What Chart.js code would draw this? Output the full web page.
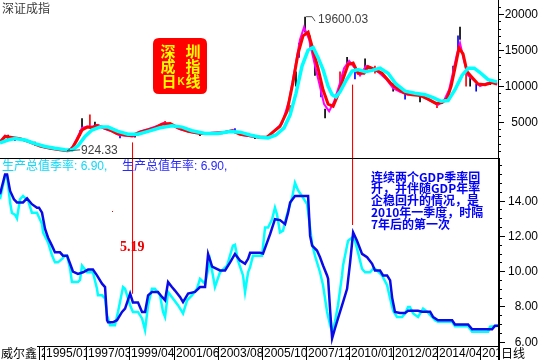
<!DOCTYPE html>
<html><head><meta charset="utf-8">
<script src="https://cdn.jsdelivr.net/npm/chart.js@4.4.1/dist/chart.umd.min.js"></script>
<style>
html,body{margin:0;padding:0;background:#fff;}
#wrap{position:relative;width:540px;height:360px;overflow:hidden;background:#fff;}
canvas{position:absolute;left:0;}
#cTop{top:0;}
#cBot{top:158px;}
</style></head><body>
<div id="wrap"><canvas id="cTop" width="540" height="158"></canvas><canvas id="cBot" width="540" height="202"></canvas></div>
<script>
// ---------- data ----------
const dateRange = [1992.70, 2017.35];
const priceRange = [0, 21990];
const gdpRange = [5.756, 16.42];
const priceTicks = [5000, 10000, 15000, 20000];
const gdpTicks = [6, 8, 10, 12, 14];
const dateTickPos = [1994.63, 1994.88, 1996.96, 1999.09, 2001.31, 2003.49, 2005.67, 2007.85, 2009.98, 2012.16, 2014.33, 2016.46];
const dateTickLabels = ['2', '1995/01', '1997/03', '1999/04', '2001/06', '2003/08', '2005/10', '2007/12', '2010/01', '2012/02', '2014/04', '2016/05'];

// Shenzhen Component index – moving averages [date, value]
const maCyan = [[1992.70,2100],[1993.10,2500],[1993.44,2700],[1993.94,2500],[1994.43,2000],[1994.93,1600],[1995.42,1350],[1995.92,1150],[1996.26,1100],[1996.56,1700],[1996.91,3000],[1997.25,3900],[1997.65,4300],[1998.05,4300],[1998.54,3700],[1999.04,3300],[1999.53,3300],[2000.03,3700],[2000.62,4200],[2001.21,4500],[2001.71,4300],[2002.20,3800],[2002.85,3400],[2003.49,3400],[2004.09,3700],[2004.58,3600],[2005.08,3200],[2005.57,2900],[2005.97,2800],[2006.36,3200],[2006.76,4200],[2007.06,6000],[2007.35,9000],[2007.65,12800],[2007.95,15000],[2008.20,15400],[2008.44,14000],[2008.69,12300],[2008.94,10000],[2009.14,8800],[2009.33,8500],[2009.53,9200],[2009.83,10800],[2010.13,12100],[2010.42,12300],[2010.77,12000],[2011.12,12200],[2011.51,12500],[2011.91,11800],[2012.30,10300],[2012.75,9300],[2013.24,9000],[2013.74,8800],[2014.14,8400],[2014.53,7900],[2014.88,8000],[2015.22,9500],[2015.57,11500],[2015.87,12500],[2016.17,12500],[2016.46,11900],[2016.86,10900],[2017.30,10600]];
const maRed = [[1992.70,2200],[1992.95,3000],[1993.20,2900],[1993.69,2700],[1994.19,2200],[1994.68,1650],[1995.18,1350],[1995.67,1150],[1996.02,1000],[1996.26,1300],[1996.51,2500],[1996.76,3900],[1997.01,4300],[1997.25,4200],[1997.50,4500],[1997.75,4300],[1998.15,3900],[1998.49,3400],[1998.89,3200],[1999.23,3100],[1999.53,3500],[1999.88,3800],[2000.37,4200],[2000.72,4700],[2001.12,4800],[2001.51,4200],[2002.01,3700],[2002.60,3400],[2003.10,3400],[2003.69,3500],[2004.19,3800],[2004.58,3300],[2005.08,3100],[2005.57,2900],[2005.92,2900],[2006.21,3600],[2006.56,4400],[2006.91,6500],[2007.20,10500],[2007.45,14500],[2007.70,17000],[2007.95,17500],[2008.20,15000],[2008.44,12500],[2008.69,9500],[2008.94,7500],[2009.19,7200],[2009.43,8800],[2009.68,11000],[2009.93,13000],[2010.18,13200],[2010.42,11800],[2010.72,11800],[2010.92,12700],[2011.26,12300],[2011.61,11800],[2012.01,10500],[2012.35,9700],[2012.75,9000],[2013.10,8800],[2013.49,8700],[2013.89,8200],[2014.28,7600],[2014.58,7700],[2014.83,8300],[2015.03,10000],[2015.22,12500],[2015.42,15300],[2015.62,14500],[2015.82,12000],[2016.07,11200],[2016.36,10300],[2016.71,10200],[2017.06,10500],[2017.30,10300]];
const maMagenta = [[1992.70,2300],[1992.95,3100],[1993.29,2800],[1993.79,2600],[1994.28,2100],[1994.78,1550],[1995.27,1300],[1995.77,1100],[1996.07,950],[1996.31,1600],[1996.56,3000],[1996.76,4200],[1997.06,4400],[1997.30,4400],[1997.55,4600],[1997.85,4100],[1998.24,3700],[1998.59,3200],[1998.99,3100],[1999.28,3000],[1999.63,3700],[2000.03,4000],[2000.52,4500],[2000.82,4900],[2001.21,4600],[2001.61,4000],[2002.11,3600],[2002.70,3400],[2003.20,3500],[2003.79,3600],[2004.23,3900],[2004.68,3200],[2005.18,3000],[2005.67,2800],[2005.97,3000],[2006.31,3900],[2006.66,4800],[2007.01,8000],[2007.30,12500],[2007.55,16500],[2007.75,18200],[2008.00,16500],[2008.24,13500],[2008.49,10500],[2008.74,7500],[2008.99,6500],[2009.23,7800],[2009.48,10000],[2009.73,12500],[2009.98,13500],[2010.27,12500],[2010.52,11500],[2010.82,12800],[2011.12,12500],[2011.41,12000],[2011.81,11000],[2012.16,9700],[2012.50,9200],[2012.90,8800],[2013.24,8900],[2013.64,8500],[2014.04,7900],[2014.38,7400],[2014.68,8000],[2014.93,9500],[2015.13,12000],[2015.32,14500],[2015.47,16000],[2015.67,13500],[2015.87,11500],[2016.17,10800],[2016.46,10000],[2016.81,10400],[2017.16,10600],[2017.30,10200]];
// daily K-line high/low wicks [date, low, high]
const kWicks = [[1993.10,2700,3200],[1993.44,2400,2800],[1994.43,1800,2200],[1994.93,1400,1700],[1996.12,924,1050],[1996.66,3100,3800],[1996.76,4000,5500],[1997.15,4300,6000],[1997.40,4300,5000],[1998.64,2800,3300],[1999.38,2900,3300],[2000.87,4500,5100],[2002.60,3100,3500],[2004.33,3500,4100],[2005.32,2700,3000],[2007.06,6000,7300],[2007.35,10000,12000],[2007.50,14000,16000],[2007.80,17500,19600],[2008.05,15000,17000],[2008.29,11500,13500],[2008.59,8500,10500],[2008.79,5577,6800],[2009.53,10500,12000],[2009.88,12500,14000],[2010.27,11000,12500],[2010.77,12000,13800],[2011.26,11800,12800],[2012.16,9300,10300],[2012.75,8200,9000],[2013.49,7800,8700],[2014.33,7000,7500],[2015.13,11000,12800],[2015.37,14500,17000],[2015.47,16500,18211],[2015.77,10000,12500],[2015.97,10000,11500],[2016.27,9300,10300],[2016.96,10200,10900]];
const peakMark = {date: 2007.80, value: 19600.03};
const lowMark = {date: 1996.02, value: 924.33};

// GDP growth [date, %]
const gdpYear = [[1992.70,14.36],[1992.95,15.49],[1993.05,15.49],[1993.20,14.55],[1993.39,14.08],[1993.54,13.9],[1993.84,13.9],[1994.04,14.13],[1994.28,13.8],[1994.53,13.6],[1994.63,13.6],[1994.78,13.32],[1994.93,12.4],[1995.08,11.9],[1995.27,11.45],[1995.42,11.07],[1995.67,11.07],[1995.82,10.88],[1996.02,10.88],[1996.17,10.42],[1996.31,9.98],[1996.56,9.85],[1996.81,9.94],[1997.06,10.09],[1997.30,10.09],[1997.50,9.76],[1997.75,9.29],[1997.90,9.1],[1998.00,7.22],[1998.05,7.1],[1998.29,7.1],[1998.49,7.22],[1998.74,7.69],[1998.89,7.88],[1999.14,8.73],[1999.28,8.23],[1999.53,8.23],[1999.73,7.69],[1999.88,7.69],[2000.03,8.63],[2000.22,8.82],[2000.52,8.82],[2000.72,8.54],[2000.87,8.35],[2001.02,9.38],[2001.21,9.1],[2001.36,8.9],[2001.61,8.54],[2001.76,8.25],[2002.01,8.73],[2002.35,8.82],[2002.60,9.1],[2002.85,9.1],[2003.00,10.98],[2003.20,10.26],[2003.59,10.04],[2003.84,10.04],[2004.09,10.5],[2004.33,10.98],[2004.58,10.6],[2004.83,10.42],[2004.98,10.7],[2005.08,11.04],[2005.57,11.04],[2005.72,11.0],[2006.07,12.1],[2006.31,12.95],[2006.56,12.9],[2006.81,12.67],[2006.96,13.32],[2007.06,13.89],[2007.30,14.26],[2007.95,14.26],[2008.05,12.0],[2008.15,11.45],[2008.39,11.17],[2008.54,10.79],[2008.69,10.32],[2008.89,9.76],[2008.94,9.57],[2009.04,7.8],[2009.14,6.19],[2009.28,6.75],[2009.43,7.32],[2009.68,8.25],[2009.88,9.0],[2010.03,10.5],[2010.18,12.2],[2010.37,11.73],[2010.62,10.98],[2010.87,10.79],[2011.12,10.42],[2011.26,10.04],[2011.51,10.04],[2011.66,9.76],[2011.86,9.76],[2012.01,9.48],[2012.11,8.5],[2012.25,7.69],[2012.50,7.63],[2012.75,7.63],[2012.90,7.75],[2013.39,7.75],[2013.59,7.7],[2013.99,7.7],[2014.14,7.4],[2014.38,7.22],[2015.08,7.22],[2015.22,6.98],[2015.87,6.98],[2016.07,6.7],[2017.06,6.7],[2017.20,6.9],[2017.35,6.9]];
const gdpQuarter = [[1992.70,14.08],[1992.95,15.4],[1993.05,15.4],[1993.20,13.89],[1993.29,13.3],[1993.44,13.2],[1993.54,12.99],[1993.69,14.08],[1993.84,14.26],[1994.09,14.0],[1994.28,13.32],[1994.53,13.32],[1994.78,12.67],[1994.83,12.2],[1995.08,11.63],[1995.27,10.92],[1995.42,10.5],[1995.57,10.5],[1995.77,10.7],[1995.92,10.88],[1996.02,10.88],[1996.17,10.14],[1996.26,9.38],[1996.56,9.38],[1996.66,9.5],[1996.76,10.32],[1997.01,9.94],[1997.30,9.94],[1997.50,9.0],[1997.55,8.63],[1997.75,8.63],[1997.90,8.45],[1998.00,7.5],[1998.15,6.94],[1998.39,6.94],[1998.54,7.69],[1998.79,9.1],[1998.89,9.0],[1999.14,8.07],[1999.28,7.69],[1999.53,7.69],[1999.73,7.32],[1999.88,6.66],[2000.03,8.07],[2000.22,9.0],[2000.37,9.0],[2000.62,8.63],[2000.77,7.69],[2000.87,7.4],[2001.02,8.82],[2001.26,8.45],[2001.51,8.07],[2001.76,7.6],[2001.96,8.35],[2002.20,8.63],[2002.45,9.0],[2002.60,9.57],[2002.85,9.29],[2003.10,10.6],[2003.24,9.76],[2003.34,9.1],[2003.59,9.94],[2003.94,10.32],[2004.23,11.45],[2004.33,11.5],[2004.48,10.6],[2004.73,9.76],[2004.83,8.82],[2004.98,9.94],[2005.08,10.23],[2005.22,10.88],[2005.67,10.88],[2005.82,12.48],[2005.97,12.48],[2006.17,12.95],[2006.31,13.6],[2006.41,13.23],[2006.56,12.2],[2006.71,12.3],[2006.91,13.23],[2007.16,14.17],[2007.30,15.01],[2007.45,14.6],[2007.65,14.26],[2007.90,13.8],[2008.15,11.54],[2008.29,10.88],[2008.54,9.94],[2008.69,9.2],[2008.89,7.69],[2009.04,6.94],[2009.14,6.56],[2009.28,7.13],[2009.43,8.07],[2009.63,9.76],[2009.68,10.32],[2009.88,11.45],[2009.93,11.73],[2010.13,11.9],[2010.27,11.73],[2010.42,11.07],[2010.62,10.14],[2010.77,9.94],[2011.02,9.94],[2011.17,10.14],[2011.26,10.14],[2011.61,9.76],[2011.86,9.2],[2012.01,8.45],[2012.16,7.75],[2012.35,7.4],[2012.60,7.4],[2012.75,7.6],[2012.90,7.97],[2012.99,7.97],[2013.15,7.6],[2013.39,7.4],[2013.64,7.88],[2013.84,7.7],[2014.09,7.4],[2014.23,7.22],[2014.38,7.13],[2015.08,7.13],[2015.22,6.88],[2015.87,6.88],[2016.07,6.56],[2016.86,6.56],[2016.96,6.85],[2017.35,6.9]];

// red vertical markers
const markerDates = [1999.26, 2010.15];
const markerPriceTop = [2125, 10180];
const markerGdpEnd = [8.74, 12.62];

const legendTexts = ['生产总值季率: 6.90,', '生产总值年率: 6.90,'];
const noteLines = ['连续两个GDP季率回', '升，并伴随GDP年率', '企稳回升的情况，是', '2010年一季度，时隔', '7年后的第一次'];

// ---------- helpers ----------
const F = '"Liberation Sans","Noto Sans CJK SC",sans-serif';
const CJK = '"Noto Sans CJK SC","Liberation Sans",sans-serif';
const pts = a => a.map(p => ({x: p[0], y: p[1]}));
const lineDS = (a, color, w) => ({type: 'line', data: pts(a), borderColor: color, borderWidth: w, pointRadius: 0, tension: 0, fill: false});

const baseOpts = (yMin, yMax, pad) => ({
  responsive: false, animation: false, events: [],
  layout: {padding: pad},
  plugins: {legend: {display: false}, tooltip: {enabled: false}},
  scales: {
    x: {type: 'linear', min: dateRange[0], max: dateRange[1], display: false, offset: false},
    y: {type: 'linear', min: yMin, max: yMax, display: false}
  }
});

// ---------- top panel ----------
const topDecor = {
  id: 'topDecor',
  afterDraw(chart) {
    const ctx = chart.ctx, xs = chart.scales.x, ys = chart.scales.y, ca = chart.chartArea;
    ctx.save();
    ctx.fillStyle = '#000';
    ctx.fillRect(ca.right, 0, 1, chart.height);
    for (let v = 1000; v < priceRange[1]; v += 1000) {
      const y = Math.round(ys.getPixelForValue(v));
      ctx.fillRect(ca.right + 1, y, 2, 1);
    }
    ctx.font = '12px ' + F; ctx.textAlign = 'right'; ctx.textBaseline = 'middle';
    priceTicks.forEach(v => {
      const y = Math.round(ys.getPixelForValue(v));
      ctx.fillRect(ca.right + 1, y, 5, 1);
      ctx.fillText(String(v), 538, y + 0.5);
    });
    // title
    ctx.fillStyle = '#3a3a3a'; ctx.textAlign = 'left';
    ctx.font = '12px ' + CJK;
    ctx.fillText('深证成指', 2, 8);
    // red badge
    const bx = 153, by = 38, bw = 54, bh = 56, r = 6;
    ctx.fillStyle = '#ff0000';
    ctx.beginPath();
    ctx.moveTo(bx + r, by); ctx.lineTo(bx + bw - r, by); ctx.quadraticCurveTo(bx + bw, by, bx + bw, by + r);
    ctx.lineTo(bx + bw, by + bh - r); ctx.quadraticCurveTo(bx + bw, by + bh, bx + bw - r, by + bh);
    ctx.lineTo(bx + r, by + bh); ctx.quadraticCurveTo(bx, by + bh, bx, by + bh - r);
    ctx.lineTo(bx, by + r); ctx.quadraticCurveTo(bx, by, bx + r, by);
    ctx.fill();
    ctx.fillStyle = '#ffff00'; ctx.textAlign = 'center';
    ctx.font = 'bold 15px ' + CJK;
    ctx.fillText('深', 168, 51); ctx.fillText('圳', 193, 51);
    ctx.fillText('成', 168, 66); ctx.fillText('指', 193, 66);
    ctx.fillText('日', 169, 81); ctx.fillText('线', 193, 81);
    ctx.font = 'bold 10px ' + F; ctx.fillText('K', 181, 82);
    // peak / low annotations
    ctx.strokeStyle = '#505050'; ctx.lineWidth = 1; ctx.fillStyle = '#404040';
    ctx.font = '12px ' + F; ctx.textAlign = 'left';
    let px = xs.getPixelForValue(peakMark.date), py = ys.getPixelForValue(peakMark.value);
    ctx.beginPath(); ctx.moveTo(px + 1, py - 0.5); ctx.lineTo(px + 7, py - 0.5); ctx.lineTo(px + 10, py + 4); ctx.stroke();
    ctx.fillText(peakMark.value.toFixed(2), px + 13, py + 3);
    px = xs.getPixelForValue(lowMark.date); py = ys.getPixelForValue(lowMark.value);
    ctx.beginPath(); ctx.moveTo(px + 3, py - 2.5); ctx.lineTo(px, py - 0.5); ctx.lineTo(px + 13, py - 1.5); ctx.stroke();
    ctx.fillText(lowMark.value.toFixed(2), px + 14, py - 1);
    ctx.restore();
  }
};

const topSets = [];
markerDates.forEach((d, i) => topSets.push({type: 'line', data: [{x: d, y: markerPriceTop[i]}, {x: d, y: priceRange[0]}], borderColor: '#ff0000', borderWidth: 1, pointRadius: 0}));
topSets.push(lineDS(maCyan, '#00ffff', 3.5));
topSets.push(lineDS(maRed, '#ff0000', 3));
topSets.push(lineDS(maMagenta, '#ff00ff', 2));
topSets.push({type: 'bar', data: kWicks.map(w => ({x: w[0], y: [w[1], w[2]]})), barThickness: 1,
  backgroundColor: c => ['#000000', '#0000ff', '#000000', '#ff0000'][c.dataIndex % 4], borderWidth: 0});

new Chart(document.getElementById('cTop'), {
  type: 'line',
  data: {datasets: topSets},
  options: baseOpts(priceRange[0], priceRange[1], {left: 0, right: 42, top: 0, bottom: 0}),
  plugins: [topDecor]
});

// ---------- bottom panel ----------
const botDecor = {
  id: 'botDecor',
  afterDraw(chart) {
    const ctx = chart.ctx, xs = chart.scales.x, ys = chart.scales.y, ca = chart.chartArea;
    ctx.save();
    ctx.fillStyle = '#000';
    ctx.fillRect(0, 0, ca.right, 1);
    ctx.fillRect(ca.right, 0, 2, chart.height);
    for (let v = 6; v <= 16; v += 0.5) {
      const y = Math.round(ys.getPixelForValue(v));
      ctx.fillRect(ca.right + 2, y, 2, 1);
    }
    ctx.font = '12px ' + F; ctx.textAlign = 'right'; ctx.textBaseline = 'middle';
    gdpTicks.forEach(v => {
      const y = Math.round(ys.getPixelForValue(v));
      ctx.fillRect(ca.right + 2, y, 5, 1);
      ctx.fillText(v.toFixed(2), 538, y + 0.5);
    });
    // date axis
    const yb = ca.bottom;
    ctx.fillRect(37, yb, ca.right - 37, 1);
    ctx.save();
    ctx.beginPath(); ctx.rect(0, yb, ca.right, chart.height - yb); ctx.clip();
    ctx.textAlign = 'left';
    dateTickPos.forEach((d, i) => {
      const x = Math.round(xs.getPixelForValue(d));
      ctx.fillStyle = '#fff'; ctx.fillRect(x + 1, yb + 1, 44, chart.height - yb);
      ctx.fillStyle = '#000';
      ctx.fillRect(x, yb, 1, chart.height - yb);
      ctx.fillText(dateTickLabels[i], x + 2, yb + 8);
    });
    ctx.restore();
    ctx.fillStyle = '#000'; ctx.textAlign = 'left';
    ctx.font = '12px ' + CJK;
    ctx.fillText('威尔鑫', 1, yb + 7.5);
    ctx.fillText('日线', ca.right + 3, yb + 7.5);
    // legend
    ctx.font = '12px ' + F;
    ctx.fillStyle = '#10d8f8'; ctx.fillText(legendTexts[0], 2, 9);
    ctx.fillStyle = '#2828ff'; ctx.fillText(legendTexts[1], 122, 9);
    // value label
    ctx.fillStyle = '#ee0000'; ctx.font = 'bold 14px "Liberation Serif",serif';
    ctx.fillText('5.19', 120, 89);
    ctx.fillRect(112, 53, 1, 1);
    // note
    ctx.fillStyle = '#0000ff'; ctx.font = 'bold 12px ' + CJK;
    noteLines.forEach((t, i) => ctx.fillText(t, 371, 19 + i * 11.8));
    ctx.restore();
  }
};

const botSets = [];
markerDates.forEach((d, i) => botSets.push({type: 'line', data: [{x: d, y: gdpRange[1]}, {x: d, y: markerGdpEnd[i]}], borderColor: '#ff0000', borderWidth: 1, pointRadius: 0}));
botSets.push(lineDS(gdpYear, '#0a0ae8', 2.5));
botSets.push(lineDS(gdpQuarter, '#00ffff', 2.5));

new Chart(document.getElementById('cBot'), {
  type: 'line',
  data: {datasets: botSets},
  options: baseOpts(gdpRange[0], gdpRange[1], {left: 0, right: 42, top: 0, bottom: 14}),
  plugins: [botDecor]
});
</script></body></html>
